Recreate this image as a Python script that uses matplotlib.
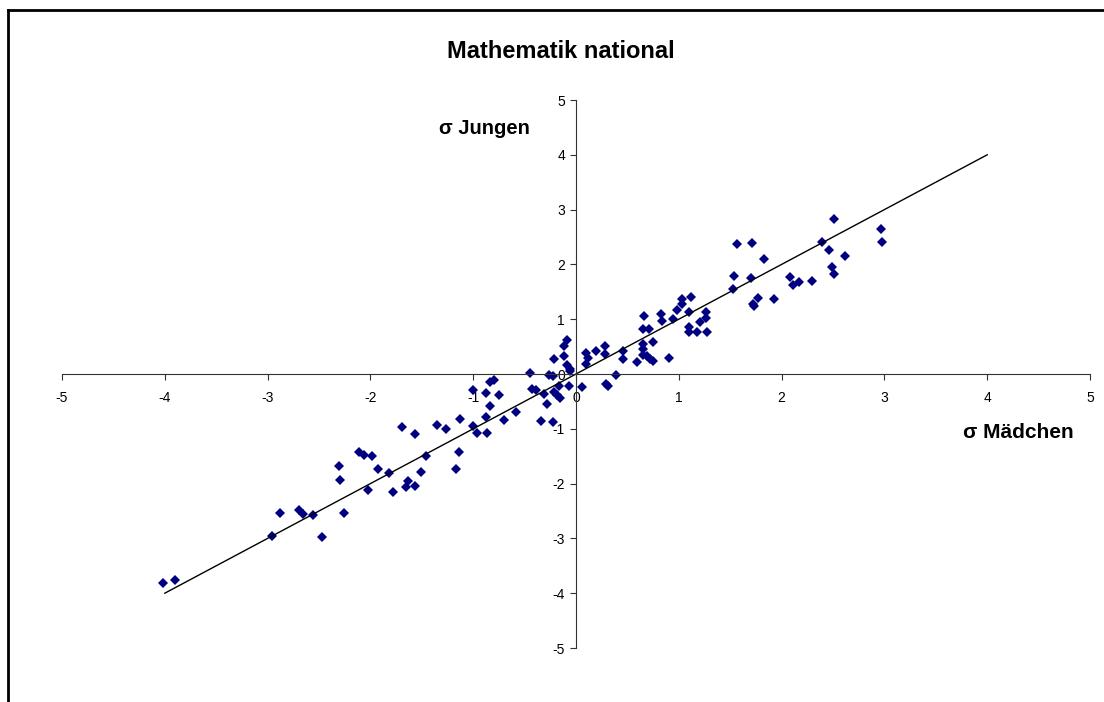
import matplotlib
matplotlib.use("Agg")
import matplotlib.pyplot as plt
from matplotlib.lines import Line2D

# sigma values girls (x) vs boys (y)
maedchen = [
    -4.02, -3.90, -2.96, -2.88, -2.69, -2.66, -2.56, -2.47, -2.31, -2.30,
    -2.26, -2.11, -2.06, -1.98, -1.93, -2.02, -1.82, -1.78, -1.69, -1.57,
    -1.63, -1.65, -1.57, -1.51, -1.46, -1.35, -1.26, -1.17, -1.14, -1.13,
    -1.00, -0.96, -0.87, -0.88, -0.70, -0.58, -1.00, -0.88, -0.75, -0.84,
    -0.84, -0.80, -0.43, -0.39, -0.31, -0.28, -0.34, -0.22, -0.45, -0.26,
    -0.22, -0.21, -0.12, -0.12, -0.09, -0.09, -0.06, -0.06, -0.07, -0.17,
    -0.21, -0.18, -0.16, 0.06, 0.10, 0.12, 0.10, 0.19, 0.28, 0.28,
    0.29, 0.31, 0.39, 0.46, 0.46, 0.59, 0.65, 0.69, 0.72, 0.75,
    0.65, 0.65, 0.75, 0.65, 0.71, 0.90, 0.66, 0.83, 0.84, 0.94,
    0.98, 1.03, 1.03, 1.12, 1.10, 1.26, 1.26, 1.21, 1.10, 1.10,
    1.18, 1.27, 1.53, 1.54, 1.57, 1.71, 1.70, 1.77, 1.72, 1.73,
    1.83, 1.93, 2.08, 2.11, 2.17, 2.30, 2.39, 2.46, 2.49, 2.51,
    2.51, 2.62, 2.97, 2.98,
]
jungen = [
    -3.82, -3.76, -2.96, -2.54, -2.48, -2.55, -2.57, -2.97, -1.67, -1.93,
    -2.54, -1.43, -1.47, -1.49, -1.73, -2.12, -1.81, -2.15, -0.97, -1.09,
    -1.95, -2.07, -2.05, -1.78, -1.50, -0.93, -1.00, -1.74, -1.43, -0.82,
    -0.95, -1.08, -1.07, -0.79, -0.84, -0.70, -0.30, -0.35, -0.38, -0.58,
    -0.14, -0.11, -0.28, -0.29, -0.37, -0.55, -0.85, -0.88, 0.02, -0.01,
    -0.03, 0.27, 0.33, 0.51, 0.62, 0.16, 0.09, 0.05, -0.21, -0.21,
    -0.32, -0.38, -0.43, -0.23, 0.38, 0.30, 0.18, 0.42, 0.51, 0.36,
    -0.19, -0.21, -0.01, 0.42, 0.27, 0.21, 0.35, 0.32, 0.27, 0.24,
    0.45, 0.55, 0.58, 0.82, 0.82, 0.29, 1.06, 1.09, 0.97, 1.00,
    1.16, 1.36, 1.28, 1.41, 1.13, 1.14, 1.03, 0.94, 0.85, 0.77,
    0.76, 0.76, 1.55, 1.79, 2.38, 2.39, 1.75, 1.38, 1.28, 1.24,
    2.10, 1.36, 1.77, 1.62, 1.67, 1.70, 2.41, 2.26, 1.96, 1.82,
    2.83, 2.16, 2.64, 2.41,
]
trend_x = [-4, 4]
trend_y = [-4, 4]
ticks = [-5, -4, -3, -2, -1, 0, 1, 2, 3, 4, 5]

W, H = 1104, 702
plt.rcParams['font.family'] = ['Liberation Sans', 'DejaVu Sans']

fig = plt.figure(figsize=(W / 100, H / 100), dpi=100)
ax = fig.add_axes([62 / W, 1 - 648 / H, 1028 / W, 548 / H])

ax.plot(maedchen, jungen, linestyle='none', marker='D', markersize=4.8,
        color='#000080', markeredgewidth=0)
ax.plot(trend_x, trend_y, color='black', linewidth=1)

ax.set_xlim(-5, 5)
ax.set_ylim(-5, 5)
ax.set_xticks(ticks)
ax.set_yticks(ticks)
ax.set_xticklabels([str(t) for t in ticks])
ax.set_yticklabels([str(t) for t in ticks])

for side in ['top', 'right']:
    ax.spines[side].set_visible(False)
ax.spines['left'].set_position('zero')
ax.spines['bottom'].set_position('zero')
for side in ['left', 'bottom']:
    ax.spines[side].set_color('#333333')
    ax.spines[side].set_linewidth(0.8)

ax.tick_params(axis='x', direction='out', length=4, width=0.8, pad=8,
               labelsize=10, color='#333333')
ax.tick_params(axis='y', direction='out', length=4, width=0.8, pad=4,
               labelsize=10, color='#333333')
ax.patch.set_alpha(0)

fig.text(561 / W, 1 - 52 / H, 'Mathematik national', ha='center', va='center',
         fontsize=17, fontweight='bold')
fig.text(484 / W, 1 - 128 / H, 'σ Jungen', ha='center', va='center',
         fontsize=14.5, fontweight='bold')
fig.text(1018 / W, 1 - 432 / H, 'σ Mädchen', ha='center', va='center',
         fontsize=15, fontweight='bold')

# chart frame (top and left edge visible)
fig.add_artist(Line2D([8 / W, 8 / W], [0, 1 - 10 / H], transform=fig.transFigure,
                      color='black', linewidth=2))
fig.add_artist(Line2D([8 / W, 1], [1 - 10 / H, 1 - 10 / H], transform=fig.transFigure,
                      color='black', linewidth=2))

fig.savefig('out.png', dpi=100)
